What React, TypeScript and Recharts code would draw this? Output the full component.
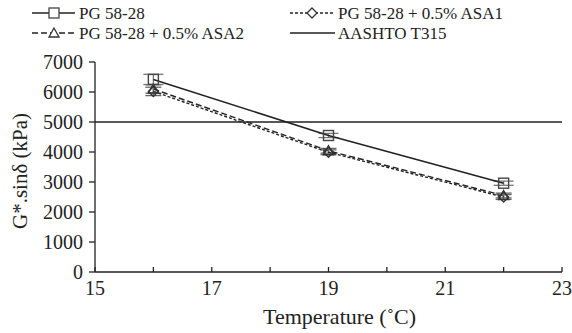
import React from 'react';
import { LineChart, Line, XAxis, YAxis, ErrorBar, ReferenceLine } from 'recharts';

const temps = [16, 19, 22];
const pg = [6420, 4550, 2960];
const pgErr = [170, 70, 70];
const asa1 = [6020, 3990, 2500];
const asa1Err = [140, 80, 80];
const asa2 = [6100, 4040, 2550];
const asa2Err = [140, 80, 80];
const aashto = 5000;
const xTicks = [15, 16, 17, 18, 19, 20, 21, 22, 23];
const yTicks = [0, 1000, 2000, 3000, 4000, 5000, 6000, 7000];

const data = temps.map((t, i) => ({
  t,
  pg: pg[i],
  pgErr: pgErr[i],
  asa1: asa1[i],
  asa1Err: asa1Err[i],
  asa2: asa2[i],
  asa2Err: asa2Err[i],
}));

const FONT = 'Liberation Serif, Times New Roman, Times, DejaVu Serif, serif';
const fs = (size: number) => ({ fontFamily: FONT, fontSize: size });

const Square = (props: any) => {
  const { cx, cy } = props;
  if (cx == null || cy == null) return null;
  return <rect x={cx - 5} y={cy - 5} width={10} height={10} fill="none" stroke="#444" strokeWidth={1.4} />;
};
const Diamond = (props: any) => {
  const { cx, cy } = props;
  if (cx == null || cy == null) return null;
  return <path d={`M${cx},${cy - 5} L${cx + 5},${cy} L${cx},${cy + 5} L${cx - 5},${cy} Z`} fill="none" stroke="#333" strokeWidth={1.4} />;
};
const Triangle = (props: any) => {
  const { cx, cy } = props;
  if (cx == null || cy == null) return null;
  return <path d={`M${cx},${cy - 5} L${cx + 5},${cy + 4} L${cx - 5},${cy + 4} Z`} fill="none" stroke="#333" strokeWidth={1.4} />;
};

const XTick = (props: any) => {
  const { x, y, payload } = props;
  const v = payload.value;
  return (
    <g>
      <line x1={x} y1={y} x2={x} y2={y - 5} stroke="#222" strokeWidth={1.3} />
      {v % 2 === 1 ? (
        <text x={x} y={y + 23} textAnchor="middle" style={fs(20)} fill="#222">
          {v}
        </text>
      ) : null}
    </g>
  );
};

const Legend = () => (
  <svg width={572} height={45} style={{ position: 'absolute', left: 0, top: 0 }}>
    <g fill="#222">
      <line x1={32} y1={13} x2={75} y2={13} stroke="#222" strokeWidth={1.5} />
      <rect x={49} y={8} width={10} height={10} fill="white" stroke="#444" strokeWidth={1.3} />
      <text x={79} y={19} style={fs(17)}>PG 58-28</text>

      <line x1={290} y1={13} x2={335} y2={13} stroke="#222" strokeWidth={1.3} strokeDasharray="3 2" />
      <path d="M312,8 L317,13 L312,18 L307,13 Z" fill="white" stroke="#333" strokeWidth={1.3} />
      <text x={338} y={19} style={fs(17)}>PG 58-28 + 0.5% ASA1</text>

      <line x1={32} y1={33} x2={75} y2={33} stroke="#222" strokeWidth={1.3} strokeDasharray="6 3" />
      <path d="M54,28 L59,37 L49,37 Z" fill="white" stroke="#333" strokeWidth={1.3} />
      <text x={79} y={39} style={fs(17)}>PG 58-28 + 0.5% ASA2</text>

      <line x1={290} y1={33} x2={335} y2={33} stroke="#222" strokeWidth={1.5} />
      <text x={338} y={39} style={fs(17)}>AASHTO T315</text>
    </g>
  </svg>
);

export default function App() {
  return (
    <div style={{ position: 'absolute', left: 0, top: 0, width: 572, height: 333, background: '#fff', fontFamily: FONT }}>
      <LineChart width={572} height={333} data={data} margin={{ top: 62, right: 10, bottom: 0, left: 0 }} style={{ fontFamily: FONT }}>
        <XAxis
          dataKey="t"
          type="number"
          domain={[15, 23]}
          ticks={xTicks}
          interval={0}
          height={61}
          tickSize={0}
          tickMargin={0}
          tickLine={false}
          tick={<XTick />}
          axisLine={{ stroke: '#222', strokeWidth: 1.3 }}
          label={{
            content: (p: any) => {
              const vb = p.viewBox;
              return (
                <text x={vb.x + vb.width / 2 + 11} y={vb.y + 52} textAnchor="middle" style={fs(22)} fill="#222">
                  Temperature (˚C)
                </text>
              );
            },
          }}
        />
        <YAxis
          type="number"
          domain={[0, 7000]}
          ticks={yTicks}
          interval={0}
          width={95}
          tickSize={6}
          tickMargin={6}
          tick={{ style: fs(20), fill: '#222' }}
          tickLine={{ stroke: '#222', strokeWidth: 1.3 }}
          axisLine={{ stroke: '#222', strokeWidth: 1.3 }}
          label={{
            content: (p: any) => {
              const vb = p.viewBox;
              const cy = vb.y + vb.height / 2 + 4;
              return (
                <text x={20} y={cy} transform={`rotate(-90, 20, ${cy})`} textAnchor="middle" dominantBaseline="central" style={fs(21)} fill="#222">
                  G*.sinδ (kPa)
                </text>
              );
            },
          }}
        />
        <ReferenceLine y={aashto} stroke="#222" strokeWidth={1.5} />
        <Line dataKey="asa2" stroke="#222" strokeWidth={1.4} strokeDasharray="6 3" dot={<Triangle />} isAnimationActive={false}>
          <ErrorBar dataKey="asa2Err" width={8} stroke="#666" strokeWidth={1.3} direction="y" />
        </Line>
        <Line dataKey="asa1" stroke="#222" strokeWidth={1.4} strokeDasharray="3 2" dot={<Diamond />} isAnimationActive={false}>
          <ErrorBar dataKey="asa1Err" width={8} stroke="#666" strokeWidth={1.3} direction="y" />
        </Line>
        <Line dataKey="pg" stroke="#222" strokeWidth={1.6} dot={<Square />} isAnimationActive={false}>
          <ErrorBar dataKey="pgErr" width={10} stroke="#777" strokeWidth={1.3} direction="y" />
        </Line>
      </LineChart>
      <Legend />
    </div>
  );
}
